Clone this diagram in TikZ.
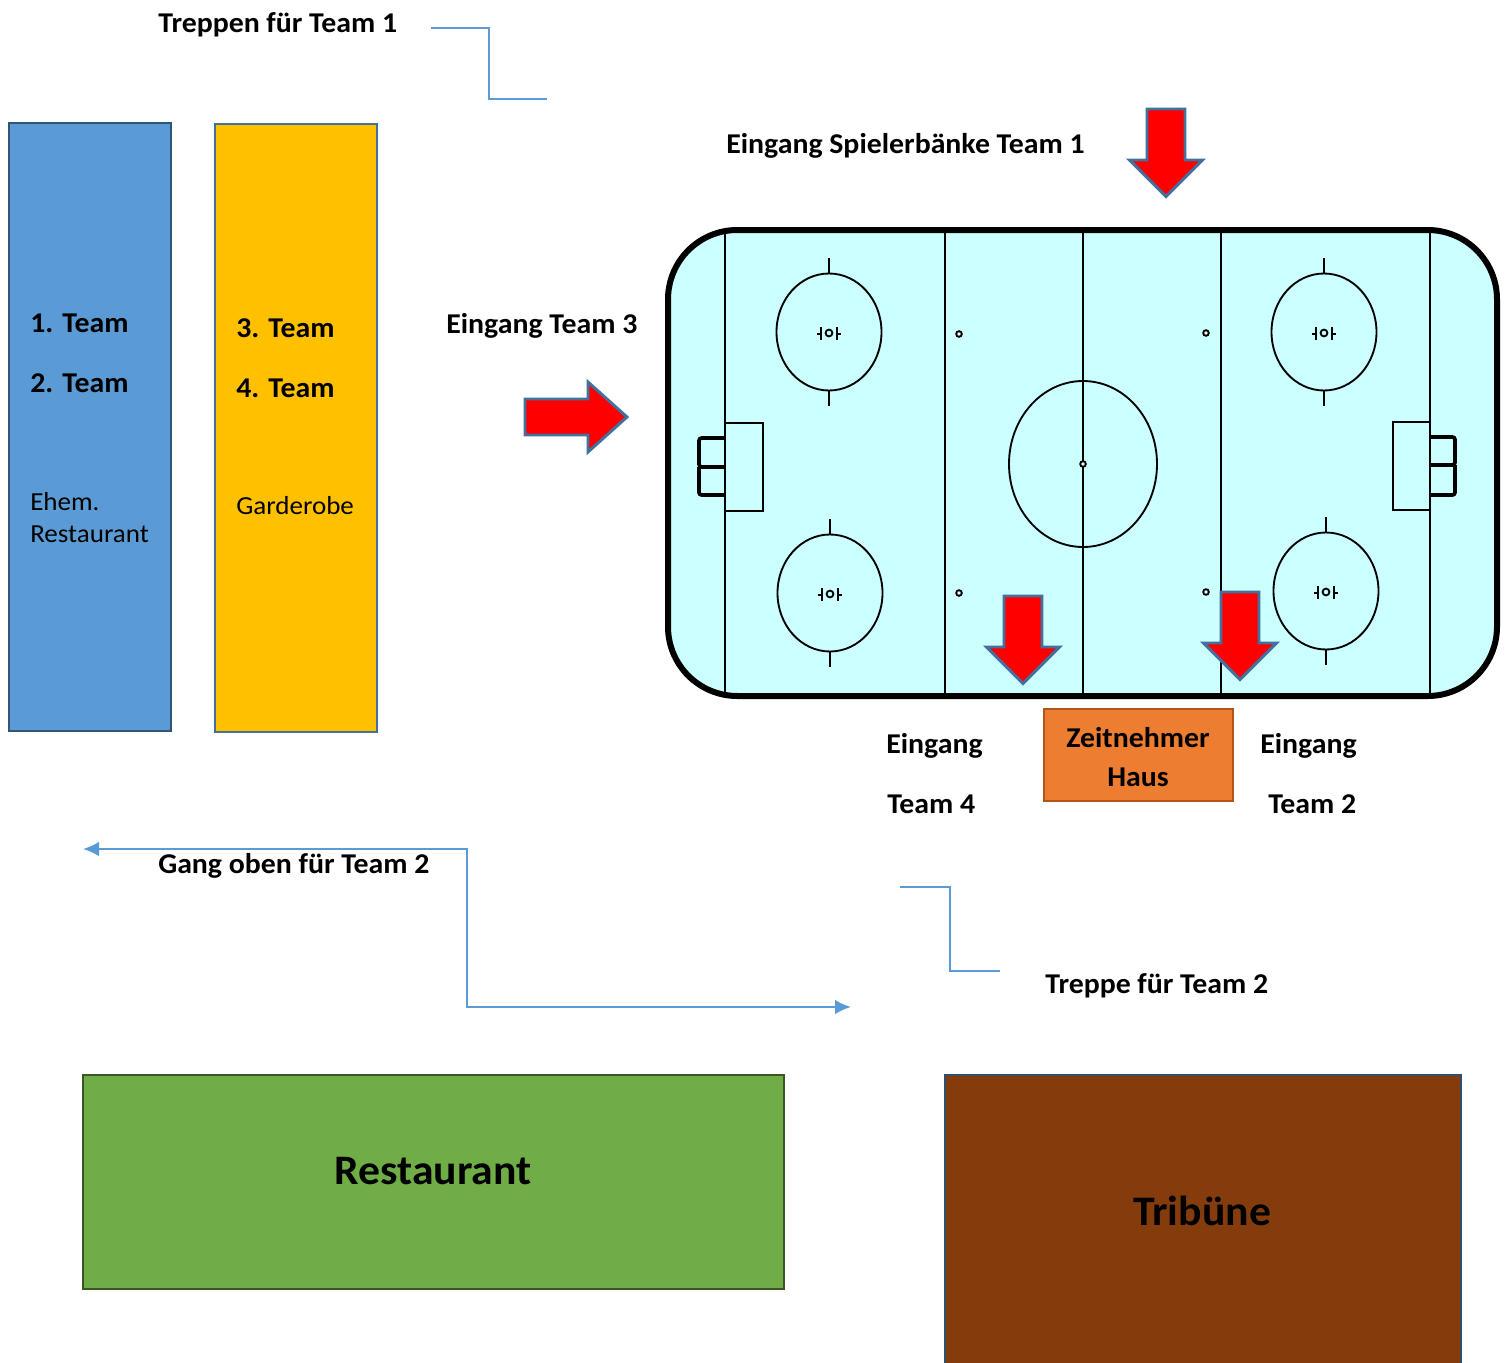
\documentclass[tikz,border=0pt]{standalone}
\usepackage{fontspec}
\setmainfont[FakeStretch=1.04]{Carlito}
\usepackage{tikz}
\usetikzlibrary{arrows.meta}

\definecolor{rinkblue}{HTML}{CCFFFF}
\definecolor{arrowedge}{HTML}{41719C}
\definecolor{linkblue}{HTML}{5B9BD5}
\definecolor{garderobeyellow}{HTML}{FFC000}
\definecolor{zeitorange}{HTML}{ED7D31}
\definecolor{restgreen}{HTML}{70AD47}
\definecolor{tribbrown}{HTML}{843C0C}

\tikzset{
   room/.style={draw, line width=1.5pt, inner sep=0pt, outer sep=0pt, anchor=north west},
   label/.style={anchor=base west, inner sep=0pt, font=\fontsize{21.5pt}{24pt}\selectfont\bfseries},
   plain/.style={anchor=base west, inner sep=0pt, font=\fontsize{19.5pt}{24pt}\selectfont},
   big/.style={anchor=base, inner sep=0pt, font=\fontsize{31.5pt}{36pt}\selectfont\bfseries},
   redarrow/.style={fill=red, draw=arrowedge, line width=2.2pt, miter limit=10},
   rinkline/.style={black, line width=1.4pt},
   netline/.style={black, line width=2.8pt, rounded corners=2pt},
   link/.style={linkblue, line width=1pt},
}

\begin{document}
\begin{tikzpicture}[x=0.75pt, y=-0.75pt]
   \useasboundingbox (0,0) rectangle (1507,1363);

   % rooms
   \node[room, fill=linkblue, draw=arrowedge!75!black, minimum width=121.5pt, minimum height=456pt] (blue) at (9,123) {};
   \node[room, fill=garderobeyellow, draw=arrowedge, minimum width=121.5pt, minimum height=456pt] (garderobe) at (215,124) {};
   \node[room, fill=zeitorange, draw=tribbrown!60!zeitorange, minimum width=141.75pt, minimum height=69pt] (zeit) at (1044,709) {};
   \node[room, fill=restgreen, draw=restgreen!50!black, minimum width=526pt, minimum height=160.5pt] (restaurant) at (83,1075) {};
   \node[room, fill=tribbrown, draw=arrowedge!70!black, minimum width=387pt, minimum height=240pt] (tribuene) at (945,1075) {};

   % rink
   \draw[fill=rinkblue, draw=black, line width=4.5pt, rounded corners=52pt] (668,230) rectangle (1497,696);
   \foreach \x in {725,945,1083,1221,1430}
      \draw[rinkline] (\x,232) -- (\x,694);

   \draw[rinkline] (725,423) rectangle (763,511);
   \draw[rinkline] (1393,422) rectangle (1430,510);
   \draw[netline] (725,438) -- (699,438) -- (699,467) -- (725,467);
   \draw[netline] (699,467) -- (699,495) -- (725,495);
   \draw[netline] (1430,437) -- (1455,437) -- (1455,465) -- (1430,465);
   \draw[netline] (1455,465) -- (1455,495) -- (1430,495);

   % face-off circles
   \foreach \x/\y in {829/332,830/593,1324/332,1326/591} {
      \draw[rinkline] (\x,\y) ellipse[x radius=52.5, y radius=58.5];
      \draw[rinkline] (\x,\y-74) -- (\x,\y-59);
      \draw[rinkline] (\x,\y+59) -- (\x,\y+74);
      \draw[rinkline] (\x,\y+1) circle[radius=3.4];
      \draw[rinkline] (\x-8,\y-5) -- (\x-8,\y+8) (\x-12,\y+2) -- (\x-8,\y+2);
      \draw[rinkline] (\x+8,\y-5) -- (\x+8,\y+8) (\x+8,\y+2) -- (\x+12,\y+2);
   }
   \draw[rinkline] (1083,464) ellipse[x radius=74, y radius=83];
   \foreach \x/\y in {1083/464,959/334,1206/333,959/593,1206/592}
      \draw[rinkline, fill=white] (\x,\y) circle[radius=2.8];

   % red arrows
   \foreach \x/\y in {1166/109,1023/596,1240/592}
      \draw[redarrow] (\x-19,\y) -- (\x+19,\y) -- (\x+19,\y+51) -- (\x+36.5,\y+51)
         -- (\x,\y+87.5) -- (\x-36.5,\y+51) -- (\x-19,\y+51) -- cycle;
   \draw[redarrow] (525,399) -- (588,399) -- (588,382) -- (627,417) -- (588,452) -- (588,435) -- (525,435) -- cycle;

   % stairs and corridor
   \coordinate (stairA) at (431,28);
   \coordinate (stairB) at (547,99);
   \coordinate (stairC) at (900,887);
   \coordinate (stairD) at (1000,971);
   \coordinate (gangA) at (83,849);
   \coordinate (gangB) at (851,1007);
   \draw[link] (stairA) -- (489,28) -- (489,99) -- (stairB);
   \draw[link] (stairC) -- (950,887) -- (950,971) -- (stairD);
   \draw[linkblue, line width=1.7pt, {Latex[length=12pt,width=11pt]}-{Latex[length=12pt,width=11pt]}] (gangA) -- (467,849) -- (467,1007) -- (gangB);

   % labels
   \node[label] (l1) at (158,33) {Treppen für Team 1};
   \node[label] (l2) at (726,153) {Eingang Spielerbänke Team 1};
   \node[label] (l3) at (446,333) {Eingang Team 3};
   \node[label] (t1) at (30,332) {1. Team};
   \node[label] (t2) at (30,392) {2. Team};
   \node[plain] (e1) at (30,510) {Ehem.};
   \node[plain] (e2) at (30,542) {Restaurant};
   \node[label] (t3) at (236,337) {3. Team};
   \node[label] (t4) at (236,397) {4. Team};
   \node[plain] (g1) at (236,514) {Garderobe};
   \node[label] (e4) at (886,753) {Eingang};
   \node[label] (n4) at (887,813) {Team 4};
   \node[label, anchor=base] (z1) at (1138,747) {Zeitnehmer};
   \node[label, anchor=base] (z2) at (1138,786) {Haus};
   \node[label] (e5) at (1260,753) {Eingang};
   \node[label] (n2) at (1268,813) {Team 2};
   \node[label] (l4) at (158,873) {Gang oben für Team 2};
   \node[label] (l5) at (1045,993) {Treppe für Team 2};
   \node[big] (r1) at (433,1184) {Restaurant};
   \node[big] (r2) at (1202,1225) {Tribüne};
\end{tikzpicture}
\end{document}
